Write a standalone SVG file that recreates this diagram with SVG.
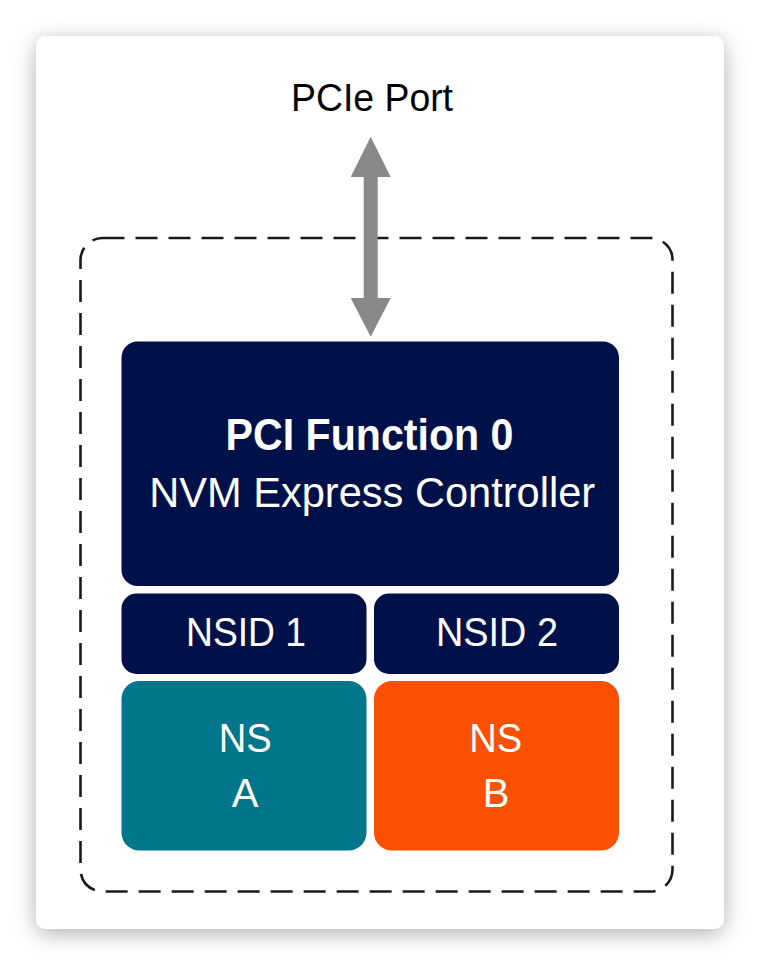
<svg xmlns="http://www.w3.org/2000/svg" width="760" height="966" viewBox="0 0 760 966">
  <defs>
    <filter id="shadow" x="-10%" y="-10%" width="120%" height="120%">
      <feDropShadow dx="0" dy="5" stdDeviation="11" flood-color="#000" flood-opacity="0.3"/>
    </filter>
    <style>
      .txt { font-family: "Liberation Sans", Arial, sans-serif; text-anchor: middle; }
      .lbl { fill: #ffffff; }
      .navy { fill: #001149; }
      .teal { fill: #00768a; }
      .orange { fill: #fa5000; }
    </style>
  </defs>
  <rect x="0" y="0" width="760" height="966" fill="#ffffff"/>
  <rect id="card" x="36" y="36" width="688" height="893" rx="10" fill="#ffffff" filter="url(#shadow)"/>

  <g id="boundary">
    <rect x="80.5" y="238" width="592" height="653.5" rx="22" fill="none" stroke="#1a1a1a" stroke-width="2.6" stroke-dasharray="22 11"/>
  </g>

  <g id="pcie-port">
    <text class="txt" x="372" y="111" font-size="38" fill="#000" textLength="162" lengthAdjust="spacingAndGlyphs">PCIe Port</text>
  </g>

  <g id="connectors">
    <polygon fill="#888888" points="370.7,136.7 390.7,177 377.7,177 377.7,298 390.7,298 370.7,336.7 350.7,298 363.7,298 363.7,177 350.7,177"/>
  </g>

  <g id="controller">
    <rect class="navy" x="121.5" y="341.5" width="497.5" height="244.5" rx="16"/>
    <text class="txt lbl" x="369.5" y="449.5" font-size="45" font-weight="bold" textLength="288" lengthAdjust="spacingAndGlyphs">PCI Function 0</text>
    <text class="txt lbl" x="372.2" y="507.3" font-size="43" textLength="446" lengthAdjust="spacingAndGlyphs">NVM Express Controller</text>
  </g>

  <g id="nsid1">
    <rect class="navy" x="121.5" y="593.5" width="245" height="80.5" rx="15"/>
    <text class="txt lbl" x="246" y="646" font-size="40" textLength="120" lengthAdjust="spacingAndGlyphs">NSID 1</text>
  </g>

  <g id="nsid2">
    <rect class="navy" x="374" y="593.5" width="245" height="80.5" rx="15"/>
    <text class="txt lbl" x="497" y="646" font-size="40" textLength="122" lengthAdjust="spacingAndGlyphs">NSID 2</text>
  </g>

  <g id="ns-a">
    <rect class="teal" x="121.5" y="681" width="245" height="169.5" rx="18"/>
    <text class="txt lbl" x="245.3" y="751.7" font-size="40" textLength="53" lengthAdjust="spacingAndGlyphs">NS</text>
    <text class="txt lbl" x="245" y="807.3" font-size="40">A</text>
  </g>

  <g id="ns-b">
    <rect class="orange" x="374" y="681" width="245" height="169.5" rx="18"/>
    <text class="txt lbl" x="495.8" y="751.7" font-size="40" textLength="53" lengthAdjust="spacingAndGlyphs">NS</text>
    <text class="txt lbl" x="496" y="806.7" font-size="40">B</text>
  </g>
</svg>
